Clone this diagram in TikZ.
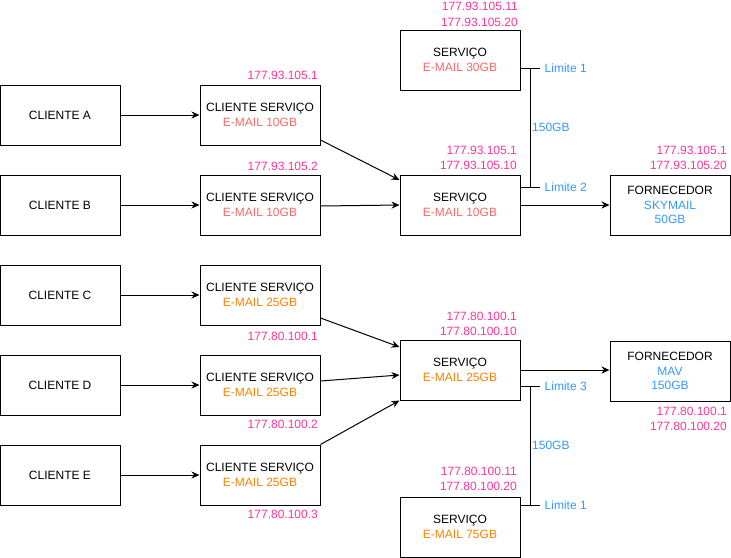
\documentclass[tikz,border=0pt]{standalone}
\usepackage{fontspec}
\setmainfont{Liberation Sans}
\usetikzlibrary{arrows.meta}
\definecolor{ipc}{HTML}{FF3399}
\definecolor{redc}{HTML}{FF6666}
\definecolor{orc}{HTML}{FF8000}
\definecolor{bluc}{HTML}{3399FF}
\tikzset{
  box/.style={draw, line width=1pt, minimum width=120pt, minimum height=60pt, inner sep=0pt, align=center, font=\fontsize{12}{14.5}\selectfont},
  arr/.style={line width=1pt, -{Stealth[length=8pt,width=7pt]}},
  lim/.style={line width=1pt},
  ip/.style={text=ipc, align=right, anchor=east, inner sep=0pt, font=\fontsize{12}{15.5}\selectfont},
  bl/.style={text=bluc, anchor=west, inner sep=0pt, font=\fontsize{12}{14}\selectfont}
}
\begin{document}
\begin{tikzpicture}[x=1pt,y=-1pt]
\useasboundingbox (0,0) rectangle (731,557);
% clients
\node[box] (cA) at (60,115) {CLIENTE A};
\node[box] (cB) at (60,205) {CLIENTE B};
\node[box] (cC) at (60,295) {CLIENTE C};
\node[box] (cD) at (60,385) {CLIENTE D};
\node[box] (cE) at (60,475) {CLIENTE E};
% cliente servico
\node[box] (csA) at (260,115) {CLIENTE SERVIÇO\\\textcolor{redc}{E-MAIL 10GB}};
\node[box] (csB) at (260,205) {CLIENTE SERVIÇO\\\textcolor{redc}{E-MAIL 10GB}};
\node[box] (csC) at (260,295) {CLIENTE SERVIÇO\\\textcolor{orc}{E-MAIL 25GB}};
\node[box] (csD) at (260,385) {CLIENTE SERVIÇO\\\textcolor{orc}{E-MAIL 25GB}};
\node[box] (csE) at (260,475) {CLIENTE SERVIÇO\\\textcolor{orc}{E-MAIL 25GB}};
% servicos
\node[box] (sTop) at (460,60) {SERVIÇO\\\textcolor{redc}{E-MAIL 30GB}};
\node[box] (s10) at (460,205) {SERVIÇO\\\textcolor{redc}{E-MAIL 10GB}};
\node[box] (s25) at (460,370) {SERVIÇO\\\textcolor{orc}{E-MAIL 25GB}};
\node[box] (s75) at (460,527) {SERVIÇO\\\textcolor{orc}{E-MAIL 75GB}};
% fornecedores
\node[box] (fSky) at (670,205) {FORNECEDOR\\\textcolor{bluc}{SKYMAIL}\\\textcolor{bluc}{50GB}};
\node[box] (fMav) at (670,371) {FORNECEDOR\\\textcolor{bluc}{MAV}\\\textcolor{bluc}{150GB}};
% arrows
\draw[arr] (cA) -- (csA);
\draw[arr] (cB) -- (csB);
\draw[arr] (cC) -- (csC);
\draw[arr] (cD) -- (csD);
\draw[arr] (cE) -- (csE);
\draw[arr] ([yshift=-25pt]csA.east) -- ([yshift=25pt]s10.west);
\draw[arr] ([yshift=-1pt]csB.east) -- (s10.west);
\draw[arr] (s10.east) -- (fSky.west |- s10.east);
\draw[arr] ([yshift=-23pt]csC.east) -- ([yshift=23pt]s25.west);
\draw[arr] ([yshift=4pt]csD.east) -- ([yshift=-5pt]s25.west);
\draw[arr] (csE.north east) -- (s25.south west);
\draw[arr] (s25.east) -- (fMav.west |- s25.east);
% limite brackets top
\coordinate (t1) at ([yshift=-8pt]sTop.east);
\coordinate (t2) at ([yshift=18pt]s10.east);
\draw[lim] (t1) -- ++(19,0);
\draw[lim] (t2) -- ++(19,0);
\draw[lim] ([xshift=10pt]t1) -- ([xshift=10pt]t2);
\node[bl] (lt1) at ([xshift=24pt]t1) {Limite 1};
\node[bl] (lt2) at ([xshift=24pt]t2) {Limite 2};
\node[bl] (gb1) at (532,127) {150GB};
% limite brackets bottom
\coordinate (b1) at ([yshift=-16pt]s25.east);
\coordinate (b2) at ([yshift=22pt]s75.east);
\draw[lim] (b1) -- ++(19,0);
\draw[lim] (b2) -- ++(19,0);
\draw[lim] ([xshift=10pt]b1) -- ([xshift=10pt]b2);
\node[bl] (lb1) at ([xshift=24pt]b1) {Limite 3};
\node[bl] (lb2) at ([xshift=24pt]b2) {Limite 1};
\node[bl] (gb2) at (532,445) {150GB};
% IP labels
\node[ip] (ipTop) at (518,14.5) {177.93.105.11\\177.93.105.20};
\node[ip] (ipA) at (318,75) {177.93.105.1};
\node[ip] (ipB) at (318,166) {177.93.105.2};
\node[ip] (ipS10) at (517,158) {177.93.105.1\\177.93.105.10};
\node[ip] (ipSky) at (727,158) {177.93.105.1\\177.93.105.20};
\node[ip] (ipC) at (318,336) {177.80.100.1};
\node[ip] (ipS25) at (517,324) {177.80.100.1\\177.80.100.10};
\node[ip] (ipD) at (318,424) {177.80.100.2};
\node[ip] (ipE) at (318,514) {177.80.100.3};
\node[ip] (ipMav) at (727,419) {177.80.100.1\\177.80.100.20};
\node[ip] (ipS75) at (517,479) {177.80.100.11\\177.80.100.20};
\end{tikzpicture}
\end{document}
